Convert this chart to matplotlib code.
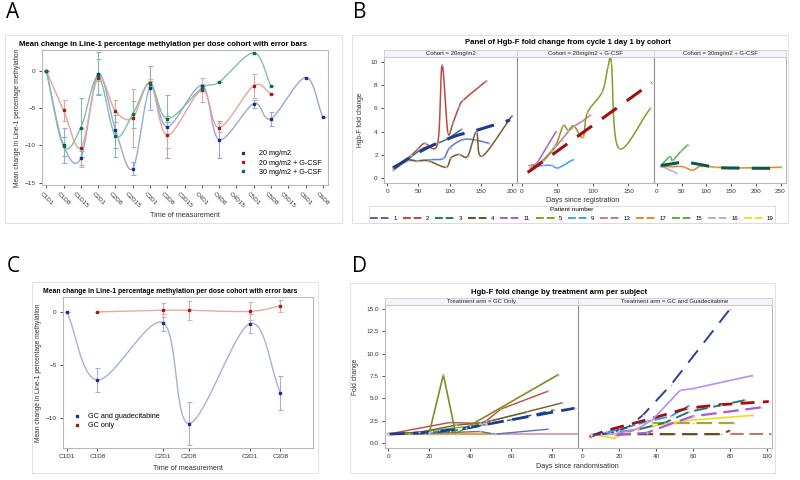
import numpy as np
import matplotlib
matplotlib.use("Agg")
import matplotlib.pyplot as plt
from matplotlib.lines import Line2D
from matplotlib.patches import Rectangle

plt.rcParams["font.family"] = ["Liberation Sans", "DejaVu Sans"]

# ---------------- Panel A data ----------------
a_visits = ["C1D1", "C1D8", "C1D15", "C2D1", "C2D8", "C2D15", "C3D1", "C3D8", "C3D15",
            "C4D1", "C4D8", "C4D15", "C5D1", "C5D8", "C5D15", "C6D1", "C6D8"]
nan = np.nan
a_20 = [0, -10.0, -11.7, -0.4, -7.9, -13.1, -2.3, -7.5, nan, -2.0, -9.2, nan, -4.4, -6.4, nan, -0.9, -6.2]
a_20_err = [0, 2.3, 0.9, 2.9, 2.4, 0.9, 2.9, 4.2, nan, 0.3, 2.5, nan, 0.55, 0.95, nan, 0, 0]
a_20g = [0, -5.3, -10.3, -0.9, -5.4, -6.3, -1.6, -8.6, nan, -2.6, -7.6, nan, -2.0, -3.1, nan, nan, nan]
a_20g_err = [0, 1.4, 2.6, 0.4, 1.5, 3.9, 0.5, 1.7, nan, 1.6, 0.6, nan, 1.6, 0, nan, nan, nan]
a_30g = [0, -10.1, -7.6, -0.75, -8.7, -5.8, -1.7, -6.4, nan, -2.3, -1.5, nan, 2.4, -2.0, nan, nan, nan]
a_30g_err = [0, 1.3, 3.9, 2.3, 2.8, 1.8, 0.3, 0.4, nan, 0.3, 0, nan, 0, 0, nan, nan, nan]

# ---------------- Panel B data (days, fold change) ----------------
b1_p1_day = [10, 30, 50, 70, 90, 100, 120, 140, 163]
b1_p1_val = [0.9, 1.5, 1.5, 1.6, 1.7, 2.6, 3.3, 3.3, 3.0]
b1_p2_day = [10, 25, 39, 50, 60, 81, 88, 97, 105, 115, 122, 159]
b1_p2_val = [1.0, 1.4, 2.0, 2.55, 3.0, 3.0, 9.7, 4.0, 4.7, 6.1, 6.7, 8.35]
b1_p3_day = [10, 30, 55, 76, 97, 119]
b1_p3_val = [1.0, 1.5, 2.5, 2.9, 3.4, 4.2]
b1_p4_day = [10, 20, 34, 47, 66, 94, 102, 115, 129, 143, 152, 200]
b1_p4_val = [0.7, 1.1, 1.55, 1.5, 1.5, 0.95, 1.75, 2.05, 1.9, 4.0, 1.9, 5.35]
b1_fit_day = [10, 60, 108, 142, 197]
b1_fit_val = [0.9, 2.5, 3.6, 4.1, 5.0]

b2_p5_day = [12, 25, 47, 58, 65, 73, 86, 92, 113, 121, 126, 136, 181]
b2_p5_val = [0.9, 1.3, 2.8, 4.5, 4.1, 4.5, 3.5, 5.6, 7.4, 9.5, 9.9, 2.6, 6.0]
b2_p11_day = [14, 22, 35, 48]
b2_p11_val = [1.0, 1.4, 2.7, 4.0]
b2_p13_day = [10, 20, 30, 42, 56, 70, 85, 96]
b2_p13_val = [1.1, 1.2, 1.5, 2.3, 3.3, 4.3, 4.9, 5.4]
b2_p9_day = [12, 18, 30, 42, 51, 72]
b2_p9_val = [0.9, 1.0, 1.1, 1.1, 0.9, 1.6]
b2_fit_day = [8, 183]
b2_fit_val = [0.5, 8.2]

b3_p15_day = [8, 26, 32, 48, 62]
b3_p15_val = [1.1, 1.85, 1.55, 2.3, 2.85]
b3_p17_day = [8, 30, 52, 72, 89, 118, 150, 200, 251]
b3_p17_val = [1.0, 1.0, 1.0, 0.7, 1.05, 0.95, 0.9, 0.9, 0.95]
b3_p16_day = [8, 25, 39]
b3_p16_val = [1.05, 0.75, 0.45]
b3_fit_day = [8, 52, 65, 92, 110, 132, 240]
b3_fit_val = [1.1, 1.4, 1.35, 1.15, 1.0, 0.9, 0.85]

patients = ["1", "2", "3", "4", "11", "5", "9", "13", "17", "15", "16", "19"]
patient_colors = ["#4f62a3", "#b94a3e", "#1f7a6e", "#6b4a20", "#a65ae0", "#8a9a2a",
                  "#3aa0f5", "#c07890", "#e08a20", "#55b040", "#c0a4f5", "#f5e020"]

# ---------------- Panel C data ----------------
c_visits = ["C1D1", "C1D8", "C2D1", "C2D8", "C3D1", "C3D8"]
c_days = [1, 8, 23, 29, 43, 50]
c_gua = [0, -6.4, -1.0, -10.5, -1.1, -7.6]
c_gua_err = [0, 1.1, 0.8, 2.05, 0.9, 1.6]
c_gc = [nan, 0, 0.15, 0.15, 0.05, 0.55]
c_gc_err = [nan, 0, 0.65, 0.9, 0.85, 0.55]

# ---------------- Panel D data ----------------
d1_olive_day = [0, 20, 27, 33, 83]
d1_olive_val = [1.0, 1.05, 7.65, 1.05, 7.65]
d1_red_day = [0, 30, 45, 48, 55, 78]
d1_red_val = [1.0, 2.3, 2.2, 2.5, 3.8, 5.8]
d1_brown_day = [0, 15, 33, 47, 85]
d1_brown_val = [1.0, 1.2, 2.0, 2.3, 4.5]
d1_teal_day = [0, 30, 46, 60, 81]
d1_teal_val = [1.0, 1.3, 2.0, 2.6, 3.7]
d1_navy_day = [0, 20, 38, 48, 91]
d1_navy_val = [1.0, 1.2, 1.65, 2.1, 3.9]
d1_green_day = [10, 25, 40, 50, 68]
d1_green_val = [1.0, 1.5, 1.9, 2.5, 3.45]
d1_blue_day = [0, 20, 45, 52, 78]
d1_blue_val = [1.0, 1.1, 1.3, 1.0, 1.55]
d1_orange_day = [0, 18, 34, 50]
d1_orange_val = [1.0, 1.0, 1.0, 1.0]
d1_pink_day = [52, 70, 92]
d1_pink_val = [1.0, 1.0, 1.0]

d2_navy_day = [5, 15, 25, 33, 48, 80]
d2_navy_val = [0.9, 1.1, 1.8, 3.15, 6.5, 15.0]
d2_lav_day = [5, 17, 30, 38, 53, 60, 92]
d2_lav_val = [0.9, 1.0, 1.6, 2.6, 5.9, 6.1, 7.55]
d2_blue_day = [5, 20, 35, 48, 58]
d2_blue_val = [0.9, 1.5, 2.4, 3.0, 4.2]
d2_teal_day = [10, 30, 45, 58, 88]
d2_teal_val = [1.0, 1.5, 2.3, 3.5, 4.8]
d2_red_day = [4, 13, 35, 57, 75, 101]
d2_red_val = [0.7, 1.4, 2.6, 3.9, 4.3, 4.65]
d2_purple_day = [18, 35, 50, 60, 97]
d2_purple_val = [0.9, 1.15, 2.3, 3.0, 4.0]
d2_yellow_day = [5, 17, 30, 55, 92]
d2_yellow_val = [1.0, 0.55, 1.6, 2.5, 3.1]
d2_olive_day = [38, 60, 82]
d2_olive_val = [2.3, 2.3, 2.3]
d2_brown_day = [18, 50, 75, 80]
d2_brown_val = [1.0, 1.0, 1.0, 1.4]
d2_salmon_day = [80, 102]
d2_salmon_val = [1.0, 1.0]

W, H = 800, 480
TICK = "#333333"
SPINE = "#b8b8b8"


def box(x0, y0, x1, y1):
    return [x0 / W, 1 - y1 / H, (x1 - x0) / W, (y1 - y0) / H]


def smooth(x, y, n=24):
    """Catmull-Rom style curve through the points (skips missing values)."""
    p = np.column_stack([np.asarray(x, float), np.asarray(y, float)])
    p = p[~np.isnan(p[:, 1])]
    if len(p) < 3:
        return p[:, 0], p[:, 1]
    m = np.empty_like(p)
    m[1:-1] = (p[2:] - p[:-2]) / 2
    m[0] = p[1] - p[0]
    m[-1] = p[-1] - p[-2]
    t = np.linspace(0, 1, n)[:, None]
    h00 = 2 * t**3 - 3 * t**2 + 1
    h10 = t**3 - 2 * t**2 + t
    h01 = -2 * t**3 + 3 * t**2
    h11 = t**3 - t**2
    segs = [h00 * p[i] + h10 * m[i] + h01 * p[i + 1] + h11 * m[i + 1] for i in range(len(p) - 1)]
    c = np.vstack(segs)
    return c[:, 0], c[:, 1]


def style_ax(ax, labelsize=4.6):
    for s in ax.spines.values():
        s.set_color(SPINE)
        s.set_linewidth(0.8)
    ax.tick_params(labelsize=labelsize, colors=TICK, length=2.5, width=0.6, pad=2)


def strip(x0, y0, x1, y1, text):
    sax = fig.add_axes(box(x0, y0, x1, y1))
    sax.set_facecolor("#f2f4fa")
    sax.set_xticks([])
    sax.set_yticks([])
    for s in sax.spines.values():
        s.set_color("#d0d0d0")
        s.set_linewidth(0.6)
    sax.text(0.5, 0.45, text, fontsize=4.3, ha="center", va="center", color="#222222")


fig = plt.figure(figsize=(8, 4.8), dpi=100)

# frames and panel letters
for x0, y0, x1, y1 in [(5, 35, 342, 223), (352, 35, 788, 223), (32, 282, 318, 473), (350, 283, 775, 473)]:
    l, b, w, h = box(x0, y0, x1, y1)
    fig.patches.append(Rectangle((l, b), w, h, transform=fig.transFigure, fill=False,
                                 edgecolor="#e2e2e2", lw=0.8))
for letter, x, y in [("A", 13, 13), ("B", 360, 13), ("C", 13, 266), ("D", 360, 266)]:
    fig.text(x / W, 1 - y / H, letter, fontsize=15, ha="center", va="center", family="Open Sans")

# ================= Panel A =================
ax = fig.add_axes(box(42, 50, 328, 185))
xa = np.arange(len(a_visits))
series_a = [
    ("20 mg/m2", a_20, a_20_err, "#1d2d8c", "#9ba7d8"),
    ("20 mg/m2 + G-CSF", a_20g, a_20g_err, "#a31c1c", "#e4a59e"),
    ("30 mg/m2 + G-CSF", a_30g, a_30g_err, "#0e6b45", "#80c0a8"),
]
for label, vals, err, mc, lc in series_a:
    sx, sy = smooth(xa, vals)
    ax.plot(sx, sy, color=lc, lw=1.0, zorder=2)
    ax.errorbar(xa, vals, yerr=err, fmt="none", ecolor=lc, elinewidth=0.8, capsize=1.8,
                capthick=0.8, zorder=2)
    ax.plot(xa, vals, ls="none", marker="s", ms=1.8, color=mc, label=label, zorder=3)
ax.set_xlim(-0.25, 16.3)
ax.set_ylim(-15.3, 2.8)
ax.set_yticks([0, -5, -10, -15])
ax.set_xticks(xa)
ax.set_xticklabels(a_visits, rotation=-45, ha="center")
style_ax(ax)
ax.set_title("Mean change in Line-1 percentage methylation per dose cohort with error bars",
             fontsize=5.6, fontweight="bold", loc="left", x=-0.08, pad=3)
ax.set_xlabel("Time of measurement", fontsize=5.2, color=TICK, labelpad=2)
ax.set_ylabel("Mean change in Line-1 percentage methylation", fontsize=4.8, color=TICK, labelpad=3)
ax.legend(loc="lower right", bbox_to_anchor=(1.0, 0.02), frameon=False, fontsize=5.2,
          handletextpad=1.2, labelspacing=0.3, markerscale=1.0)

# ================= Panel B =================
b_edges = [384, 517, 654, 786]
b_xlims = [(-5, 208), (-7, 186), (-6, 261)]
b_xticks = [[0, 50, 100, 150, 200], [0, 50, 100, 150], [0, 50, 100, 150, 200, 250]]
b_strips = ["Cohort = 20mg/m2", "Cohort = 20mg/m2 + G-CSF", "Cohort = 30mg/m2 + G-CSF"]
b_data = [
    [(b1_p1_day, b1_p1_val, "#6477c0"), (b1_p3_day, b1_p3_val, patient_colors[2]),
     (b1_p4_day, b1_p4_val, "#7a5a2a"), (b1_p2_day, b1_p2_val, patient_colors[1])],
    [(b2_p9_day, b2_p9_val, patient_colors[6]), (b2_p11_day, b2_p11_val, patient_colors[4]),
     (b2_p13_day, b2_p13_val, patient_colors[7]), (b2_p5_day, b2_p5_val, patient_colors[5])],
    [(b3_p16_day, b3_p16_val, patient_colors[10]), (b3_p17_day, b3_p17_val, patient_colors[8]),
     (b3_p15_day, b3_p15_val, patient_colors[9])],
]
b_fits = [(b1_fit_day, b1_fit_val, "#1f3a8f"), (b2_fit_day, b2_fit_val, "#a01010"),
          (b3_fit_day, b3_fit_val, "#0b5a48")]
b_marker = ["#aebde0", "#e9b2b8", "#a9c6dc"]
for i in range(3):
    axb = fig.add_axes(box(b_edges[i], 57, b_edges[i + 1], 183))
    for d, v, c in b_data[i]:
        sx, sy = smooth(d, v)
        axb.plot(sx, sy, color=c, lw=1.1, zorder=2)
        axb.plot(d, v, ls="none", marker="o", ms=1.6, mfc=b_marker[i], mec="none", zorder=3)
    fd, fv, fc = b_fits[i]
    sx, sy = smooth(fd, fv)
    axb.plot(sx, sy, color=fc, lw=2.2, ls=(0, (6, 4)), zorder=4)
    axb.set_xlim(*b_xlims[i])
    axb.set_ylim(-0.4, 10.4)
    axb.set_xticks(b_xticks[i])
    axb.set_yticks([0, 2, 4, 6, 8, 10])
    style_ax(axb)
    if i == 0:
        axb.set_ylabel("Hgb-F fold change", fontsize=4.8, color=TICK, labelpad=5)
    else:
        axb.tick_params(left=False, labelleft=False)
        axb.spines["left"].set_color("#909090")
    strip(b_edges[i], 50, b_edges[i + 1], 57, b_strips[i])
fig.text(568 / W, 1 - 43 / H, "Panel of Hgb-F fold change from cycle 1 day 1 by cohort",
         fontsize=5.6, fontweight="bold", ha="center", va="center")
fig.text(583 / W, 1 - 201 / H, "Days since registration", fontsize=5.2, color=TICK,
         ha="center", va="center")
handles = [Line2D([], [], color=c, lw=1.4, ls=(0, (4, 1.5))) for c in patient_colors]
leg = fig.legend(handles, patients, ncol=12, loc="center", bbox_to_anchor=(572 / W, 1 - 214 / H),
                 title="Patient number", fontsize=4.4, title_fontsize=4.6, handlelength=3.3,
                 handletextpad=0.5, columnspacing=0.95, borderpad=0.3, fancybox=False,
                 edgecolor="#d8d8d8", framealpha=1)
leg.get_frame().set_linewidth(0.6)

# ================= Panel C =================
axc = fig.add_axes(box(63, 297, 313, 448))
for label, vals, err, mc, lc in [
    ("GC and guadecitabine", c_gua, c_gua_err, "#1d2d8c", "#a7b0dc"),
    ("GC only", c_gc, c_gc_err, "#a31c1c", "#e6aaa4"),
]:
    sx, sy = smooth(c_days, vals)
    axc.plot(sx, sy, color=lc, lw=1.0, zorder=2)
    axc.errorbar(c_days, vals, yerr=err, fmt="none", ecolor=lc, elinewidth=0.8, capsize=1.8,
                 capthick=0.8, zorder=2)
    axc.plot(c_days, vals, ls="none", marker="s", ms=1.8, color=mc, label=label, zorder=3)
axc.set_xlim(0.1, 57.5)
axc.set_ylim(-12.8, 1.4)
axc.set_yticks([0, -5, -10])
axc.set_xticks(c_days)
axc.set_xticklabels(c_visits)
style_ax(axc)
axc.set_title("Mean change in Line-1 percentage methylation per dose cohort with error bars",
              fontsize=4.9, fontweight="bold", loc="left", x=-0.08, pad=3)
axc.set_xlabel("Time of measurement", fontsize=5.2, color=TICK, labelpad=4)
axc.set_ylabel("Mean change in Line-1 percentage methylation", fontsize=4.8, color=TICK, labelpad=3)
axc.legend(loc="lower left", bbox_to_anchor=(0.0, 0.08), frameon=False, fontsize=5.2,
           handletextpad=0.6, labelspacing=0.3)

# ================= Panel D =================
d_edges = [385, 578, 772]
d_xlims = [(-1.5, 92.7), (-2.2, 102.7)]
d_xticks = [[0, 20, 40, 60, 80], [0, 20, 40, 60, 80, 100]]
d_strips = ["Treatment arm = GC Only", "Treatment arm = GC and Guadecitabine"]
d_data = [
    [(d1_orange_day, d1_orange_val, "#f0a030", "-", 1.6), (d1_pink_day, d1_pink_val, "#d090b0", "-", 1.2),
     (d1_blue_day, d1_blue_val, "#5a70b8", "-", 1.0), (d1_green_day, d1_green_val, "#5cc040", "-", 1.0),
     (d1_teal_day, d1_teal_val, "#1f7a6e", (0, (6, 3)), 1.2), (d1_brown_day, d1_brown_val, "#7a5a2a", "-", 1.0),
     (d1_red_day, d1_red_val, "#c0473d", "-", 1.0), (d1_olive_day, d1_olive_val, "#7f8e1f", "-", 1.2),
     (d1_navy_day, d1_navy_val, "#1f3a8f", (0, (6, 3)), 2.0)],
    [(d2_salmon_day, d2_salmon_val, "#c87060", (0, (7, 3)), 1.4), (d2_brown_day, d2_brown_val, "#6b4a20", (0, (7, 3)), 1.6),
     (d2_olive_day, d2_olive_val, "#9aaa40", (0, (7, 3)), 1.6), (d2_yellow_day, d2_yellow_val, "#f5dc10", "-", 1.2),
     (d2_purple_day, d2_purple_val, "#a65ae0", (0, (7, 3)), 1.6), (d2_teal_day, d2_teal_val, "#1f7a6e", (0, (7, 3)), 1.4),
     (d2_blue_day, d2_blue_val, "#2597fa", (0, (7, 2)), 1.3), (d2_red_day, d2_red_val, "#a01010", (0, (5, 3)), 2.0),
     (d2_lav_day, d2_lav_val, "#b38ef3", "-", 1.2), (d2_navy_day, d2_navy_val, "#2a4592", (0, (8, 5)), 1.4)],
]
d_marker = ["#b8c6e6", "#efb8b0"]
for i in range(2):
    axd = fig.add_axes(box(d_edges[i], 305, d_edges[i + 1], 448))
    for d, v, c, ls, lw in d_data[i]:
        axd.plot(d, v, color=c, lw=lw, ls=ls, zorder=2)
        axd.plot(d, v, ls="none", marker="o", ms=1.5, mfc=d_marker[i], mec="none", zorder=3)
    axd.set_xlim(*d_xlims[i])
    axd.set_ylim(-0.55, 15.45)
    axd.set_xticks(d_xticks[i])
    axd.set_yticks([0, 2.5, 5, 7.5, 10, 12.5, 15])
    axd.set_yticklabels(["0.0", "2.5", "5.0", "7.5", "10.0", "12.5", "15.0"])
    style_ax(axd)
    if i == 0:
        axd.set_ylabel("Fold change", fontsize=4.8, color=TICK, labelpad=5)
    else:
        axd.tick_params(left=False, labelleft=False)
        axd.spines["left"].set_color("#909090")
    strip(d_edges[i], 298, d_edges[i + 1], 305, d_strips[i])
fig.text(559 / W, 1 - 292 / H, "Hgb-F fold change by treatment arm per subject",
         fontsize=5.6, fontweight="bold", ha="center", va="center")
fig.text(577 / W, 1 - 466 / H, "Days since randomisation", fontsize=5.2, color=TICK,
         ha="center", va="center")

fig.savefig("out.png", dpi=100)
